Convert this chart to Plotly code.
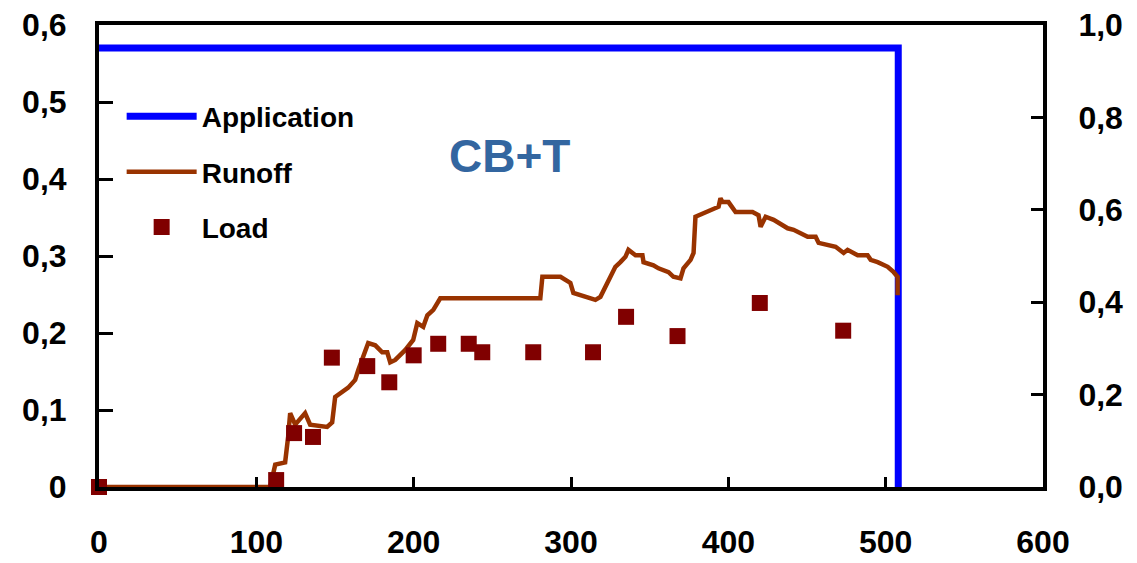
import plotly.graph_objects as go

# Application (right axis)
app_x = [0, 508, 508]
app_y = [0.95, 0.95, 0.0]

# Runoff (left axis)
runoff_x = [0, 108.8, 112.0, 118.3, 120.2, 121.5, 124.7, 131.0, 134.2, 145.0, 148.2, 150.1,
            158.4, 162.8, 164.8, 171.1, 175.6, 180.0, 183.2, 185.1, 188.3, 194.7, 199.7,
            202.3, 206.1, 208.7, 212.5, 216.9, 280.5, 281.8, 293.3, 299.6, 301.5, 315.5,
            318.7, 328.2, 331.4, 334.6, 336.5, 341.0, 345.4, 346.1, 352.4, 355.6, 362.0,
            365.1, 369.6, 371.5, 376.0, 377.9, 379.1, 393.8, 395.0, 396.3, 400.1, 404.6,
            415.4, 419.2, 420.5, 423.7, 428.8, 437.7, 441.5, 450.4, 455.5, 457.4, 468.2,
            473.3, 475.8, 482.2, 488.5, 490.5, 494.9, 501.3, 505.1, 507.6, 507.6]
runoff_y = [0, 0, 0.029, 0.032, 0.065, 0.096, 0.081, 0.096, 0.081, 0.078, 0.084, 0.117,
            0.129, 0.139, 0.152, 0.187, 0.184, 0.175, 0.175, 0.162, 0.165, 0.178, 0.191,
            0.213, 0.208, 0.223, 0.230, 0.245, 0.245, 0.273, 0.273, 0.265, 0.252, 0.243,
            0.247, 0.286, 0.292, 0.299, 0.308, 0.301, 0.301, 0.292, 0.288, 0.284, 0.279,
            0.273, 0.271, 0.284, 0.295, 0.304, 0.351, 0.364, 0.375, 0.370, 0.370, 0.357,
            0.357, 0.353, 0.338, 0.351, 0.347, 0.336, 0.334, 0.325, 0.325, 0.317, 0.312,
            0.304, 0.308, 0.301, 0.301, 0.295, 0.292, 0.286, 0.279, 0.273, 0.249]

# Load (left axis)
load_x = [0, 112.6, 124, 136, 148, 170.5, 184.5, 200, 215.6, 235, 243.6, 276, 314, 335, 367.7, 420, 473]
load_y = [0, 0.009, 0.070, 0.065, 0.168, 0.157, 0.136, 0.171, 0.186, 0.186, 0.175, 0.175,
          0.175, 0.221, 0.196, 0.239, 0.203]

left_ticks = [0, 0.1, 0.2, 0.3, 0.4, 0.5, 0.6]
left_labels = ["0", "0,1", "0,2", "0,3", "0,4", "0,5", "0,6"]
right_ticks = [0, 0.2, 0.4, 0.6, 0.8, 1.0]
right_labels = ["0,0", "0,2", "0,4", "0,6", "0,8", "1,0"]
x_ticks = [0, 100, 200, 300, 400, 500, 600]

FONT = "Liberation Sans, Arial, sans-serif"

fig = go.Figure()
fig.add_trace(go.Scatter(x=app_x, y=app_y, mode="lines", name="Application",
                         legendgroup="a", line=dict(color="#0000FF", width=7), yaxis="y"))
fig.add_trace(go.Scatter(x=runoff_x, y=runoff_y, mode="lines", name="Runoff",
                         legendgroup="b", line=dict(color="#993300", width=4.5), yaxis="y2"))
fig.add_trace(go.Scatter(x=load_x, y=load_y, mode="markers", name="Load",
                         legendgroup="c",
                         marker=dict(symbol="square", size=16, color="#800000"),
                         cliponaxis=False, yaxis="y2"))

axis_common = dict(showgrid=False, zeroline=False, showline=True, linecolor="black",
                   linewidth=4, ticks="inside", tickcolor="black", tickwidth=3,
                   automargin=False,
                   tickfont=dict(family=FONT, size=32, color="black", weight="bold"))

fig.update_layout(
    width=1137, height=563,
    margin=dict(l=99, r=94, t=25, b=76),
    plot_bgcolor="white", paper_bgcolor="white",
    xaxis=dict(range=[0, 600], tickvals=x_ticks, ticklen=10, mirror=True,
               ticklabelstandoff=24, **axis_common),
    yaxis=dict(range=[0, 1.0], side="right", tickvals=right_ticks, ticktext=right_labels,
               ticklen=12, ticklabelstandoff=25, **axis_common),
    yaxis2=dict(range=[0, 0.6], side="left", overlaying="y", tickvals=left_ticks,
                ticktext=left_labels, ticklen=14, ticklabelstandoff=22, **axis_common),
    showlegend=True,
    legend=dict(x=0.024, y=0.856, xanchor="left", yanchor="top", bgcolor="rgba(0,0,0,0)",
                font=dict(family=FONT, size=28, color="black", weight="bold"),
                traceorder="grouped", tracegroupgap=16, itemwidth=70),
    annotations=[dict(text="CB+T", x=0.435, y=0.777, xref="paper", yref="paper",
                      showarrow=False,
                      font=dict(family=FONT, size=46, color="#3366A0", weight="bold"))],
)

fig.write_html("out.html")
